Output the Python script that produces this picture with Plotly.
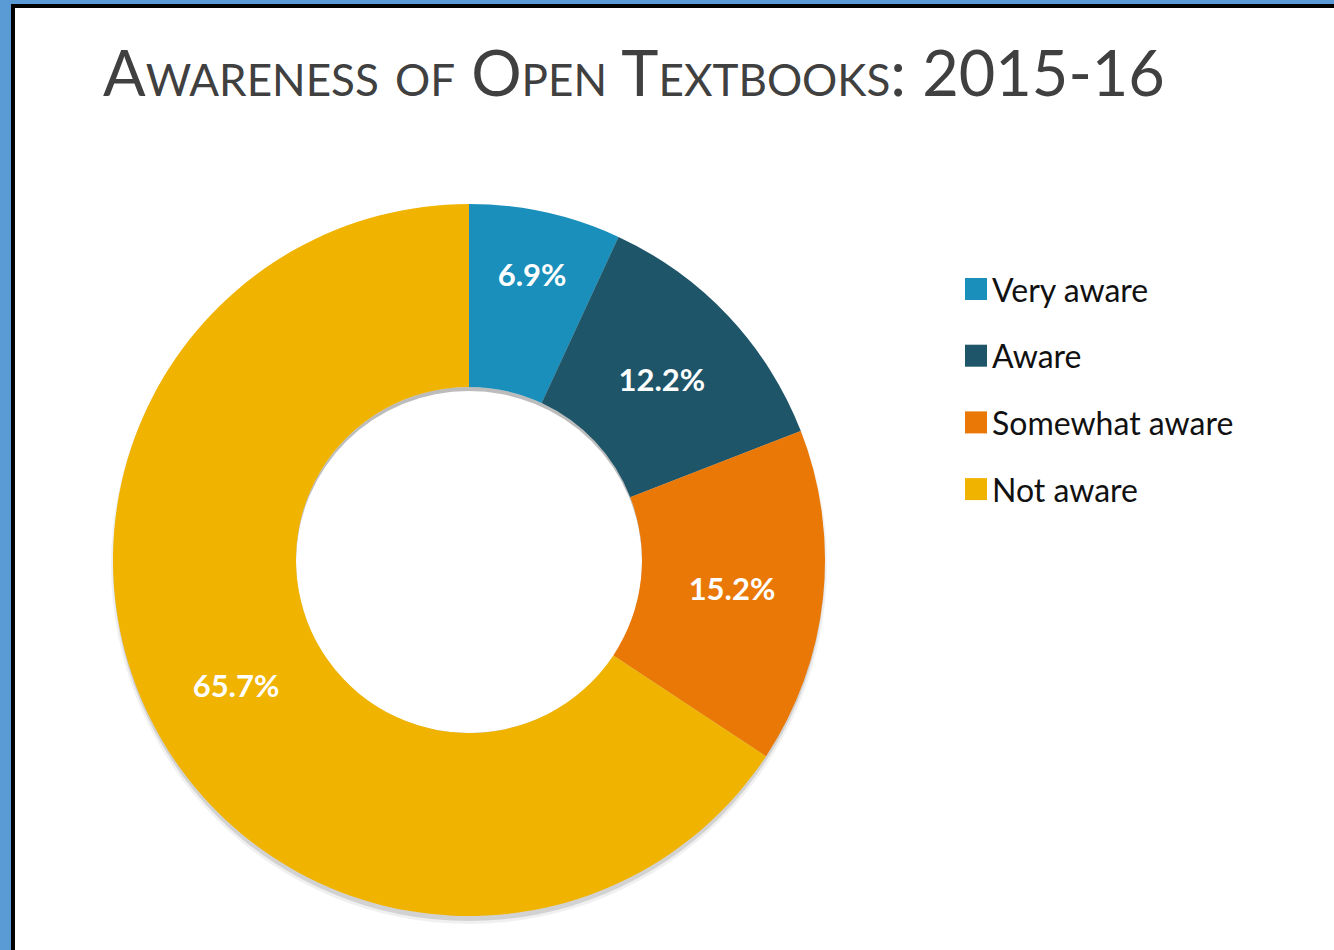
import plotly.graph_objects as go

labels = ["Very aware", "Aware", "Somewhat aware", "Not aware"]
values = [6.9, 12.2, 15.2, 65.7]
colors = ["#1a8fbb", "#1e5568", "#ea7806", "#f0b300"]
title_text = "Awareness of Open Textbooks: 2015-16"

W, H = 1334, 950
FONT = "Lato"
CX, CY, R = 469, 560, 356
HOLE = 0.486

fig = go.Figure()
fig.add_trace(go.Pie(
    labels=labels, values=values, sort=False, direction="clockwise", rotation=0,
    hole=HOLE,
    marker=dict(colors=colors, line=dict(width=0)),
    texttemplate="%{percent:.1%}", textposition="inside",
    insidetextorientation="horizontal",
    textfont=dict(family=FONT, size=31, color="white", weight="bold"),
    showlegend=False, hoverinfo="label+percent",
    domain=dict(x=[(CX - R) / W, (CX + R) / W], y=[1 - (CY + R) / H, 1 - (CY - R) / H]),
))

RH = R * HOLE
shapes = [
    # soft drop shadow behind the donut
    dict(type="circle", xref="paper", yref="paper", layer="below",
         x0=(CX - R - 2) / W, x1=(CX + R + 2) / W,
         y0=1 - (CY + R + 8) / H, y1=1 - (CY - R + 2) / H,
         fillcolor="rgba(0,0,0,0.06)", line=dict(width=0)),
    dict(type="circle", xref="paper", yref="paper", layer="below",
         x0=(CX - R) / W, x1=(CX + R) / W,
         y0=1 - (CY + R + 5) / H, y1=1 - (CY - R + 3) / H,
         fillcolor="rgba(0,0,0,0.12)", line=dict(width=0)),
    # keep the hole white, with a faint inner shadow at its top edge
    dict(type="circle", xref="paper", yref="paper", layer="below",
         x0=(CX - RH) / W, x1=(CX + RH) / W,
         y0=1 - (CY + RH) / H, y1=1 - (CY - RH) / H,
         fillcolor="rgba(0,0,0,0.10)", line=dict(width=0)),
    dict(type="circle", xref="paper", yref="paper", layer="below",
         x0=(CX - RH) / W, x1=(CX + RH) / W,
         y0=1 - (CY + RH) / H, y1=1 - (CY - RH + 4) / H,
         fillcolor="white", line=dict(width=0)),
    # blue frame (top and left)
    dict(type="rect", xref="paper", yref="paper", x0=0, x1=1, y0=1 - 4 / H, y1=1,
         fillcolor="#5b9bd5", line=dict(width=0)),
    dict(type="rect", xref="paper", yref="paper", x0=0, x1=11 / W, y0=0, y1=1,
         fillcolor="#5b9bd5", line=dict(width=0)),
    # black inner edge
    dict(type="rect", xref="paper", yref="paper", x0=11 / W, x1=1, y0=1 - 8 / H, y1=1 - 4 / H,
         fillcolor="#000000", line=dict(width=0)),
    dict(type="rect", xref="paper", yref="paper", x0=11 / W, x1=15 / W, y0=0, y1=1 - 4 / H,
         fillcolor="#000000", line=dict(width=0)),
]

annotations = [
    dict(text=title_text, xref="paper", yref="paper", x=101 / W, y=1 - 72 / H,
         xanchor="left", yanchor="middle", showarrow=False,
         font=dict(family=FONT, size=63, color="#404040", variant="small-caps")),
]

legend_top = 289
legend_step = 66.7
for i, (lab, col) in enumerate(zip(labels, colors)):
    cy = legend_top + i * legend_step
    shapes.append(dict(type="rect", xref="paper", yref="paper",
                       x0=965 / W, x1=987 / W, y0=1 - (cy + 11) / H, y1=1 - (cy - 11) / H,
                       fillcolor=col, line=dict(width=0)))
    annotations.append(dict(text=lab, xref="paper", yref="paper", x=990 / W, y=1 - cy / H,
                            xanchor="left", yanchor="middle", showarrow=False,
                            font=dict(family=FONT, size=32, color="#111111")))

fig.update_layout(
    width=W, height=H, margin=dict(l=0, r=0, t=0, b=0),
    paper_bgcolor="white", plot_bgcolor="white",
    shapes=shapes, annotations=annotations,
    showlegend=False,
)

fig.write_html("out.html", config={"displayModeBar": False},
               post_script="document.body.style.margin='0px';")
